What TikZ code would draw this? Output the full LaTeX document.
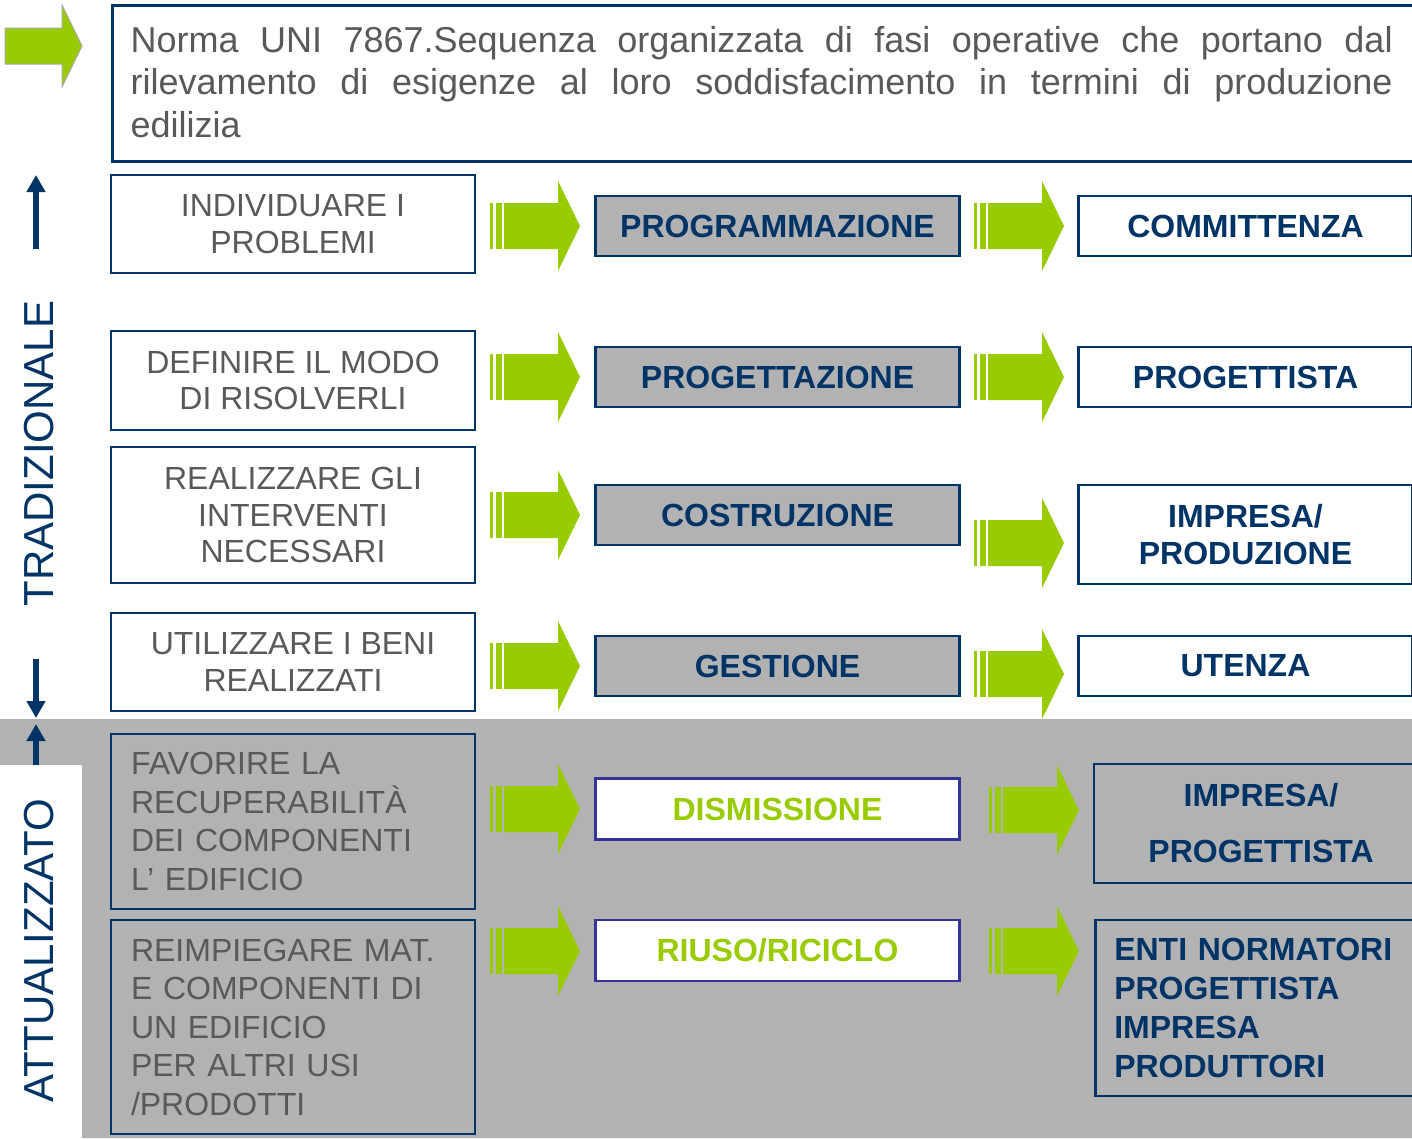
\documentclass[tikz,border=0pt]{standalone}
\usepackage{fontspec}
\setmainfont{Liberation Sans}
\usetikzlibrary{arrows.meta}
\definecolor{navy}{HTML}{003366}
\definecolor{lime}{HTML}{99CC00}
\definecolor{panelgray}{HTML}{B2B2B2}
\definecolor{txtgray}{HTML}{595959}
\definecolor{boxviolet}{HTML}{333399}
\definecolor{arrowedge}{HTML}{A8A8A8}
\newcommand\fatarrow[2]{%
  \fill[lime] (#1,#2-23) rectangle (#1+3,#2+23);
  \fill[lime] (#1+6,#2-23) rectangle (#1+12,#2+23);
  \fill[lime] (#1+14,#2-23) -- (#1+68,#2-23) -- (#1+68,#2-45) -- (#1+90,#2)
     -- (#1+68,#2+45) -- (#1+68,#2+23) -- (#1+14,#2+23) -- cycle;}
\begin{document}
\begin{tikzpicture}[x=1pt,y=-1pt,
  frame/.style={draw=navy, line width=2.5pt, inner ysep=0pt},
  leftbox/.style={frame, fill=white, minimum width=364pt, inner xsep=0pt, text=txtgray,
     align=center, font=\fontsize{32}{36.5}\selectfont},
  recbox/.style={frame, fill=panelgray, text width=324pt, inner xsep=20pt, text=txtgray,
     align=left, font=\fontsize{32}{38.4}\selectfont},
  midbox/.style={frame, fill=panelgray, minimum width=364pt, minimum height=60pt,
     text=navy, font=\fontsize{32}{36.5}\selectfont\bfseries},
  greenbox/.style={draw=boxviolet, line width=2.5pt, fill=white, minimum width=364pt,
     minimum height=61pt, text=lime, font=\fontsize{32}{36.5}\selectfont\bfseries},
  rightbox/.style={frame, fill=white, minimum width=334pt, inner xsep=0pt, text=navy,
     align=center, font=\fontsize{32}{37}\selectfont\bfseries},
  sidelabel/.style={rotate=90, inner sep=0pt, text=navy, font=\fontsize{42}{48}\selectfont},
  vertarrow/.style={draw=navy, line width=6pt, -{Triangle[width=18pt,length=17pt]}}
]
\useasboundingbox (0,0) rectangle (1412,1138);
\clip (0,0) rectangle (1412,1138);
\fill[white] (0,0) rectangle (1412,1138);
% grey panel
\fill[panelgray] (0,719) -- (1412,719) -- (1412,1138) -- (82,1138) -- (82,765) -- (0,765) -- cycle;

% top arrow
\filldraw[fill=lime, draw=arrowedge, line width=1pt]
  (5,28) -- (62,28) -- (62,5) -- (82,46) -- (62,87) -- (62,64) -- (5,64) -- cycle;

% top box
\node[frame, line width=3pt, anchor=north west, minimum width=1306pt,
  minimum height=156pt] (top) at (111,3.5) {};
\node[anchor=base west, inner sep=0pt, text width=1262pt, align=justify, text=txtgray,
  font=\fontsize{36}{42.5}\selectfont] (toptext) at (130.5,52)
  {Norma UNI 7867.Sequenza organizzata di fasi operative che portano dal\linebreak
   rilevamento di esigenze al loro soddisfacimento in termini di produzione\linebreak
   edilizia};

% side labels
\node[sidelabel] (trad) at (39,453.5) {TRADIZIONALE};
\node[sidelabel] (attu) at (39,950.5) {ATTUALIZZATO};
\coordinate (ua0) at (36,249);
\coordinate (ua1) at (36,175);
\coordinate (da0) at (36,659);
\coordinate (da1) at (36,718);
\coordinate (ub0) at (36,765);
\coordinate (ub1) at (36,724);
\draw[vertarrow] (ua0) -- (ua1);
\draw[vertarrow] (da0) -- (da1);
\draw[vertarrow] (ub0) -- (ub1);

% left column
\node[leftbox, minimum height=98pt] (l1) at (293,224) {INDIVIDUARE I\\PROBLEMI};
\node[leftbox, minimum height=99pt] (l2) at (293,380.5) {DEFINIRE IL MODO\\DI RISOLVERLI};
\node[leftbox, minimum height=136pt] (l3) at (293,515) {REALIZZARE GLI\\INTERVENTI\\NECESSARI};
\node[leftbox, minimum height=98pt] (l4) at (293,662) {UTILIZZARE I BENI\\REALIZZATI};
\node[recbox, minimum height=175pt] (l5) at (293,821.5)
  {FAVORIRE LA\\RECUPERABILITÀ\\DEI COMPONENTI\\L’ EDIFICIO};
\node[recbox, minimum height=214pt, font=\fontsize{32}{38.5}\selectfont] (l6) at (293,1027)
  {REIMPIEGARE MAT.\\E COMPONENTI DI\\UN EDIFICIO\\PER ALTRI USI\\/PRODOTTI};

% middle column
\node[midbox] (m1) at (777.5,226) {PROGRAMMAZIONE};
\node[midbox] (m2) at (777.5,377) {PROGETTAZIONE};
\node[midbox] (m3) at (777.5,515) {COSTRUZIONE};
\node[midbox] (m4) at (777.5,666) {GESTIONE};
\node[greenbox] (m5) at (777.5,809) {DISMISSIONE};
\node[greenbox] (m6) at (777.5,950.5) {RIUSO/RICICLO};

% right column
\node[rightbox, minimum height=60pt] (r1) at (1245.5,226) {COMMITTENZA};
\node[rightbox, minimum height=60pt] (r2) at (1245.5,377) {PROGETTISTA};
\node[rightbox, minimum height=99pt] (r3) at (1245.5,534.5) {IMPRESA/\\PRODUZIONE};
\node[rightbox, minimum height=60pt] (r4) at (1245.5,666) {UTENZA};
\node[rightbox, fill=panelgray, minimum height=119pt, font=\fontsize{32}{56}\selectfont\bfseries]
  (r5) at (1261,823.5) {IMPRESA/\\PROGETTISTA};
\node[frame, fill=panelgray, text width=296pt, inner xsep=19pt, minimum height=176pt,
  align=left, text=navy, font=\fontsize{32}{38.7}\selectfont\bfseries, anchor=west]
  (r6) at (1094,1008) {ENTI NORMATORI\\PROGETTISTA\\IMPRESA\\PRODUTTORI};

% green arrows
\fatarrow{490}{226}
\fatarrow{490}{377}
\fatarrow{490}{515}
\fatarrow{490}{666}
\fatarrow{490}{809}
\fatarrow{490}{951}
\fatarrow{974}{226}
\fatarrow{974}{377}
\fatarrow{974}{543}
\fatarrow{974}{674}
\fatarrow{989}{810}
\fatarrow{989}{951}
\end{tikzpicture}
\end{document}
